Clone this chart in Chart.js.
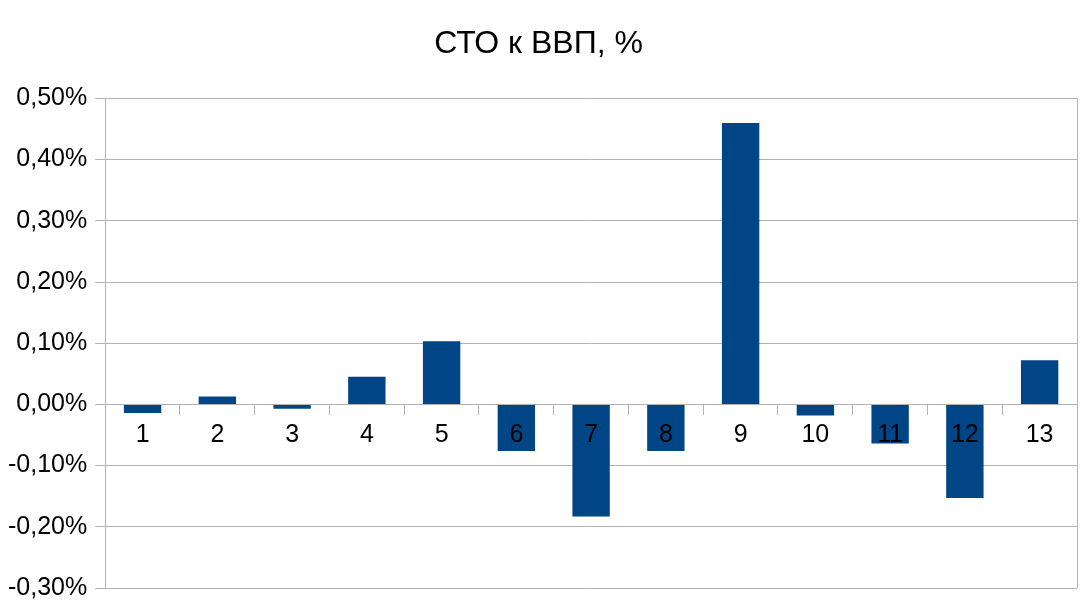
<!DOCTYPE html>
<html>
<head>
<meta charset="utf-8">
<script src="https://cdn.jsdelivr.net/npm/chart.js@4.4.1/dist/chart.umd.min.js"></script>
<style>
  html, body { margin: 0; padding: 0; background: #ffffff; }
  #wrap { width: 1092px; height: 602px; position: relative; }
</style>
</head>
<body>
<div id="wrap"><canvas id="c" width="1092" height="602"></canvas></div>
<script>
const chartTitle = 'СТО к ВВП, %';
const categories = ['1', '2', '3', '4', '5', '6', '7', '8', '9', '10', '11', '12', '13'];
const stoToGdp = [-0.014, 0.013, -0.007, 0.045, 0.103, -0.076, -0.183, -0.076, 0.460, -0.018, -0.064, -0.153, 0.072];
const yMin = -0.30;
const yMax = 0.50;
const yStep = 0.10;

const gridColor = '#b3b3b3';
const barColor = '#004586';
const fontFamily = '"Liberation Sans", Arial, sans-serif';

const frame = {
  id: 'frame',
  afterDraw(chart) {
    const a = chart.chartArea;
    const ctx = chart.ctx;
    ctx.save();
    ctx.strokeStyle = gridColor;
    ctx.lineWidth = 1;
    ctx.beginPath();
    ctx.moveTo(Math.round(a.right) + 0.5, a.top);
    ctx.lineTo(Math.round(a.right) + 0.5, a.bottom);
    ctx.stroke();
    ctx.restore();
  }
};

new Chart(document.getElementById('c'), {
  type: 'bar',
  data: {
    labels: categories,
    datasets: [{
      label: chartTitle,
      data: stoToGdp,
      backgroundColor: barColor,
      borderWidth: 0,
      barPercentage: 0.5,
      categoryPercentage: 1.0
    }]
  },
  options: {
    responsive: false,
    animation: false,
    layout: { padding: { left: 0, right: 15, top: 0, bottom: 0 } },
    plugins: {
      legend: { display: false },
      tooltip: { enabled: false },
      title: {
        display: true,
        text: chartTitle,
        color: '#000000',
        font: { family: fontFamily, size: 32, weight: 'normal' },
        padding: { top: 25, bottom: 35 }
      }
    },
    scales: {
      x: {
        position: { y: 0 },
        offset: true,
        grid: {
          display: true,
          drawOnChartArea: false,
          drawTicks: true,
          tickLength: 10,
          color: gridColor,
          offset: true
        },
        border: { display: true, color: gridColor },
        ticks: {
          z: 1,
          color: '#000000',
          font: { family: fontFamily, size: 25 },
          padding: 6,
          maxRotation: 0,
          autoSkip: false
        }
      },
      y: {
        min: yMin,
        max: yMax,
        afterFit: (s) => { s.paddingBottom = 14; },
        grid: {
          color: gridColor,
          tickLength: 10,
          drawTicks: true
        },
        border: { display: true, color: gridColor },
        ticks: {
          stepSize: yStep,
          color: '#000000',
          font: { family: fontFamily, size: 25 },
          padding: 8,
          callback: (v) => v.toFixed(2).replace('.', ',') + '%'
        }
      }
    }
  },
  plugins: [frame]
});
</script>
</body>
</html>
